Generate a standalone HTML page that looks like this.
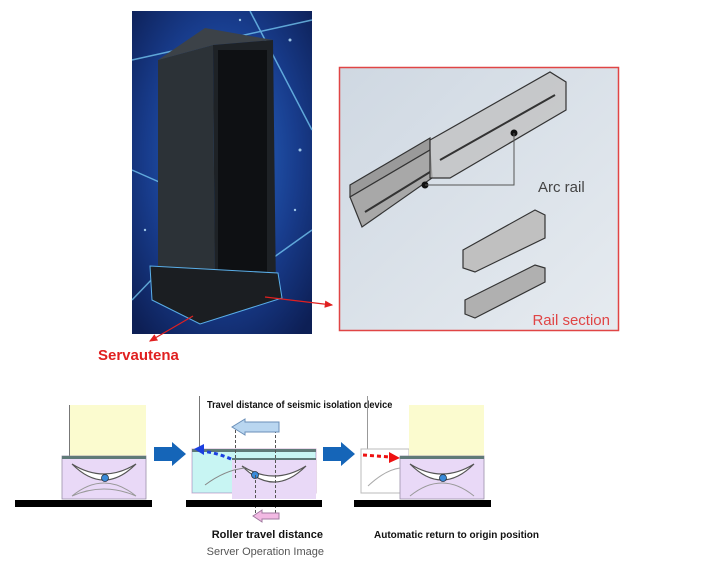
<!DOCTYPE html>
<html><head><meta charset="utf-8"><style>
html,body{margin:0;padding:0;background:#fff;width:716px;height:568px;overflow:hidden}
text{font-family:"Liberation Sans",sans-serif}
</style></head><body>
<svg width="716" height="568" viewBox="0 0 716 568" xmlns="http://www.w3.org/2000/svg">
<defs>
<radialGradient id="bg" cx="0.5" cy="0.45" r="0.7">
<stop offset="0" stop-color="#2a6fd0"/><stop offset="0.6" stop-color="#183c8c"/><stop offset="1" stop-color="#0d1f55"/>
</radialGradient>
<linearGradient id="rb" x1="0" y1="0" x2="1" y2="1">
<stop offset="0" stop-color="#cfd8e2"/><stop offset="1" stop-color="#e6ebf0"/>
</linearGradient>
<marker id="ra" markerWidth="8" markerHeight="8" refX="6" refY="4" orient="auto"><path d="M0,1 L7,4 L0,7 z" fill="#e02020"/></marker>
</defs>
<rect x="132" y="11" width="180" height="323" fill="url(#bg)"/>
<g stroke="#7fd8ff" stroke-width="1.5" opacity="0.7">
<line x1="132" y1="60" x2="312" y2="20"/><line x1="250" y1="11" x2="312" y2="130"/>
<line x1="132" y1="170" x2="200" y2="200"/><line x1="270" y1="260" x2="312" y2="230"/>
<line x1="132" y1="300" x2="180" y2="250"/>
</g>
<g fill="#bfe8ff" opacity="0.8"><circle cx="290" cy="40" r="1.5"/><circle cx="300" cy="150" r="1.5"/><circle cx="145" cy="230" r="1.2"/><circle cx="295" cy="210" r="1.2"/><circle cx="240" cy="20" r="1.2"/></g>
<polygon points="158,60 213,45 215,300 158,282" fill="#2c3237"/>
<polygon points="158,60 205,28 273,40 213,45" fill="#3c4248"/>
<polygon points="213,45 273,40 276,295 215,300" fill="#1e2226"/>
<rect x="218" y="50" width="49" height="240" fill="#0e1013"/>
<polygon points="150,266 278,273 282,298 200,324 152,300" fill="#1b1e22" stroke="#5aaee8" stroke-width="1"/>
<rect x="339.5" y="67.5" width="279" height="263" fill="url(#rb)" stroke="#e04545" stroke-width="1.5"/>
<polygon points="350,197 430,150 430,138 350,185" fill="#9a9a9a" stroke="#333" stroke-width="1.2"/>
<polygon points="350,197 362,227 432,178 430,150" fill="#a8a8a8" stroke="#333" stroke-width="1.2"/>
<polygon points="430,140 550,72 566,82 566,110 450,178 430,178" fill="#c0c0c0" fill-opacity="0.75" stroke="#333" stroke-width="1.2"/>
<line x1="440" y1="160" x2="555" y2="95" stroke="#333" stroke-width="2"/>
<line x1="365" y1="212" x2="430" y2="172" stroke="#333" stroke-width="2"/>
<circle cx="514" cy="133" r="3.5" fill="#111"/><circle cx="425" cy="185" r="3.5" fill="#111"/>
<polyline points="514,133 514,185 425,185" fill="none" stroke="#555" stroke-width="1"/>
<text x="538" y="192" font-size="15" fill="#444">Arc rail</text>
<polygon points="463,250 535,210 545,215 545,238 475,272 463,268" fill="#c0c0c0" stroke="#333" stroke-width="1.2"/>
<polygon points="465,300 535,265 545,268 545,282 475,318 465,314" fill="#b0b0b0" stroke="#333" stroke-width="1.2"/>
<text x="610" y="325" font-size="15" fill="#e04545" text-anchor="end">Rail section</text>
<line x1="265" y1="297" x2="332" y2="305" stroke="#e02020" stroke-width="1.2" marker-end="url(#ra)"/>
<line x1="193" y1="316" x2="150" y2="341" stroke="#e02020" stroke-width="1.2" marker-end="url(#ra)"/>
<text x="98" y="360" font-size="15" font-weight="bold" fill="#e02020">Servautena</text>

<rect x="69" y="405" width="77" height="51" fill="#fbfbcf"/>
<line x1="69.5" y1="405" x2="69.5" y2="456" stroke="#777"/>
<rect x="62" y="456" width="84" height="43" fill="#e9d9f7" stroke="#9a8fa8" stroke-width="0.8"/>
<rect x="62" y="456" width="84" height="3" fill="#5f7a78"/>
<path d="M72,464 Q104,496 136,464 Q104,484 72,464 z" fill="#fff" stroke="#555" stroke-width="1.2"/>
<path d="M72,496 Q104,470 136,496 Q104,482 72,496" fill="none" stroke="#999" stroke-width="1"/>
<circle cx="105" cy="478" r="3.5" fill="#3a8ad8" stroke="#234" stroke-width="0.8"/>
<rect x="15" y="500" width="137" height="7" fill="#000"/>
<polygon points="154,447 172,447 172,442 186,454 172,466 172,461 154,461" fill="#1565b8"/>
<line x1="199.5" y1="396" x2="199.5" y2="449" stroke="#777"/>
<rect x="192" y="449" width="124" height="44" fill="#c8f5f3" stroke="#607" stroke-opacity="0.3"/>
<rect x="192" y="449" width="124" height="3" fill="#5f7a78"/>
<rect x="232" y="458" width="84" height="41" fill="#e9d9f7"/>
<rect x="232" y="458" width="84" height="2" fill="#5f7a78"/>
<path d="M242,466 Q274,498 306,466 Q274,486 242,466 z" fill="#fff" stroke="#555" stroke-width="1.2"/>
<path d="M205,485 Q225,470 245,468" fill="none" stroke="#888"/>
<circle cx="255" cy="475" r="3.5" fill="#3a8ad8" stroke="#234" stroke-width="0.8"/>
<line x1="235.5" y1="425" x2="235.5" y2="478" stroke="#555" stroke-dasharray="3,2"/>
<line x1="275.5" y1="425" x2="275.5" y2="515" stroke="#555" stroke-dasharray="3,2"/>
<line x1="255.5" y1="475" x2="255.5" y2="515" stroke="#555" stroke-dasharray="3,2"/>
<path d="M231,459 Q215,452 200,451" fill="none" stroke="#1b3fe0" stroke-width="3" stroke-dasharray="4,3"/>
<polygon points="194,449 204,444 204,455" fill="#1b3fe0"/>
<rect x="186" y="500" width="136" height="7" fill="#000"/>
<polygon points="279,422 245,422 245,419 232,427 245,435 245,432 279,432" fill="#b9d6f0" stroke="#6a8fb8"/>
<polygon points="279,513 262,513 262,510 253,516 262,522 262,519 279,519" fill="#f2b9e3" stroke="#a07aa0"/>
<text x="207" y="408" font-size="10" font-weight="bold" fill="#111" transform="scale(0.92,1)" transform-origin="207 408">Travel distance of seismic isolation device</text>
<text x="323" y="538" font-size="11" font-weight="bold" fill="#111" text-anchor="end">Roller travel distance</text>
<text x="324" y="555" font-size="11" fill="#555" text-anchor="end">Server Operation Image</text>
<polygon points="323,447 341,447 341,442 355,454 341,466 341,461 323,461" fill="#1565b8"/>
<line x1="367.5" y1="396" x2="367.5" y2="449" stroke="#999"/>
<rect x="361" y="449" width="48" height="44" fill="none" stroke="#bbb"/>
<rect x="409" y="405" width="75" height="51" fill="#fbfbcf"/>
<rect x="400" y="456" width="84" height="43" fill="#e9d9f7" stroke="#9a8fa8" stroke-width="0.8"/>
<rect x="400" y="456" width="84" height="3" fill="#5f7a78"/>
<path d="M410,464 Q442,496 474,464 Q442,484 410,464 z" fill="#fff" stroke="#555" stroke-width="1.2"/>
<path d="M410,496 Q442,470 474,496" fill="none" stroke="#999"/>
<path d="M368,486 Q385,470 400,468" fill="none" stroke="#aaa"/>
<circle cx="443" cy="478" r="3.5" fill="#3a8ad8" stroke="#234" stroke-width="0.8"/>
<line x1="363" y1="455" x2="390" y2="457" stroke="#ee1111" stroke-width="3" stroke-dasharray="4,3"/>
<polygon points="400,458 389,452 389,463" fill="#ee1111"/>
<rect x="354" y="500" width="137" height="7" fill="#000"/>
<text x="374" y="538" font-size="10" font-weight="bold" fill="#111">Automatic return to origin position</text>
</svg>
</body></html>
